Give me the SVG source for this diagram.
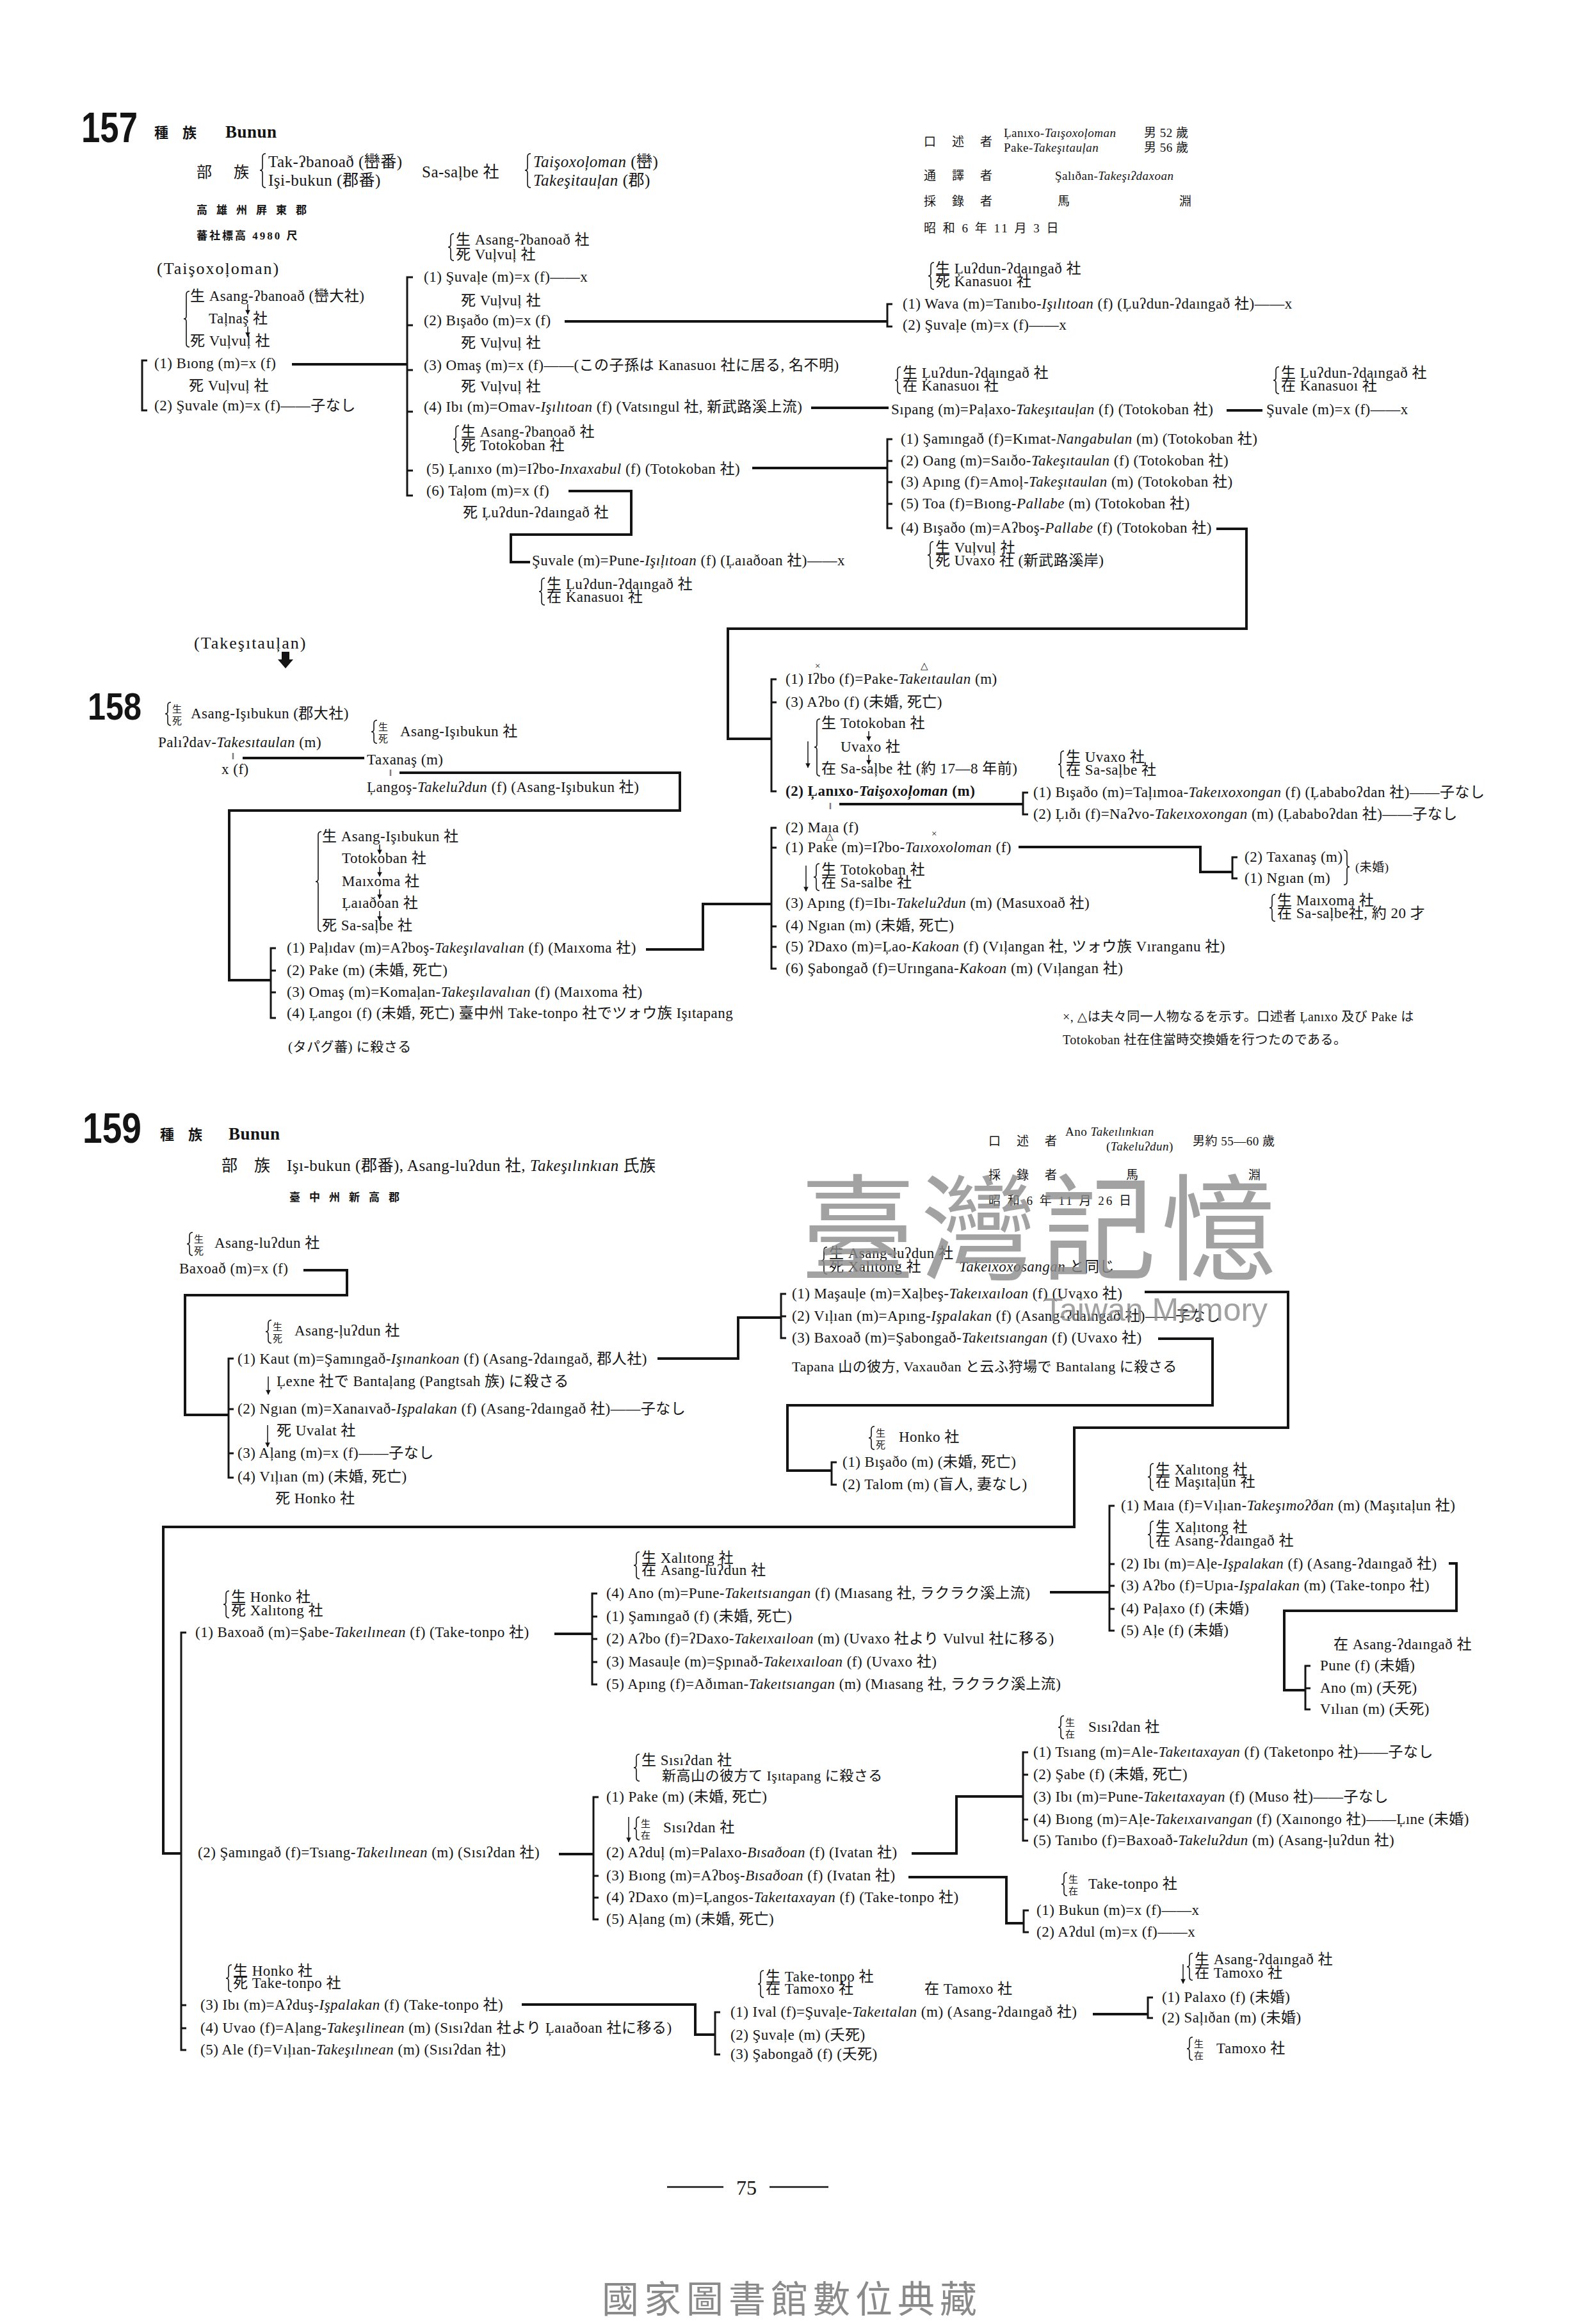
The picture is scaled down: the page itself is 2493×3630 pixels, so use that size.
<svg xmlns="http://www.w3.org/2000/svg" width="2493" height="3630" viewBox="0 0 2493 3630">
<defs>
<style>
text{font-family:"Liberation Serif","DejaVu Serif","Noto Sans CJK JP",serif;font-size:23px;fill:#141414;letter-spacing:0.5px}
.i{font-style:italic}
.bd{font-weight:bold}
.hd{font-size:19px}
.sm{font-size:15px}
.big{font-family:"Liberation Sans","DejaVu Sans",sans-serif;font-weight:bold;font-size:66px;letter-spacing:0}
.c{fill:none;stroke:#141414;stroke-width:4}
.k{fill:none;stroke:#141414;stroke-width:3}
.br{fill:none;stroke:#141414;stroke-width:1.6}
.ar{fill:none;stroke:#141414;stroke-width:1.5;marker-end:url(#ah)}
.wm{font-family:"Noto Sans CJK TC","Noto Sans CJK JP",sans-serif;fill:#8c8c8c;letter-spacing:0}
</style>
<marker id="ah" viewBox="0 0 10 10" refX="9" refY="5" markerWidth="5" markerHeight="5" orient="auto"><path d="M0,0L10,5L0,10z" fill="#141414"/></marker>
<path id="b1" class="br" d="M5,0 q-5,0 -5,5 V14 q0,4 -4,4 q4,0 4,4 V31 q0,5 5,5"/>
<path id="b2" class="br" d="M5,0 q-5,0 -5,5 V17 q0,4 -4,4 q4,0 4,4 V37 q0,5 5,5"/>
</defs>
<rect width="2493" height="3630" fill="#fff"/>

<!-- ===== 157 header ===== -->
<g id="h157">
<text class="big" x="127" y="222" textLength="88" lengthAdjust="spacingAndGlyphs">157</text>
<text x="241" y="215" class="bd" style="font-size:22px;letter-spacing:22px">種族</text>
<text x="352" y="215" class="bd" style="font-size:27px">Bunun</text>
<text x="307" y="277" style="font-size:24px;letter-spacing:34px">部族</text>
<path class="br" d="M415,240 q-5,0 -5,5 V262 q0,4 -4,4 q4,0 4,4 V288 q0,5 5,5"/>
<text x="419" y="261" style="font-size:25px">Tak-ʔbanoað (巒番)</text>
<text x="419" y="290" style="font-size:25px">Işi-bukun (郡番)</text>
<text x="659" y="277" style="font-size:25px">Sa-saļbe 社</text>
<path class="br" d="M829,240 q-5,0 -5,5 V262 q0,4 -4,4 q4,0 4,4 V288 q0,5 5,5"/>
<text x="833" y="261" style="font-size:25px"><tspan class="i">Taişoxoļoman</tspan> (巒)</text>
<text x="833" y="290" style="font-size:25px"><tspan class="i">Takeşitauļan</tspan> (郡)</text>
<text x="307" y="334" class="bd" style="font-size:17px;letter-spacing:14px">高雄州屛東郡</text>
<text x="307" y="374" class="bd" style="font-size:17px;letter-spacing:3px">蕃社標高 4980 尺</text>
<text x="245" y="428" style="font-size:26px;letter-spacing:2px">(Taişoxoļoman)</text>
</g>
<g id="info157">
<text x="1443" y="228" class="hd" style="letter-spacing:25px">口述者</text>
<text x="1568" y="214" class="hd">Ļanıxo-<tspan class="i">Taışoxoļoman</tspan></text>
<text x="1787" y="214" class="hd">男 52 歲</text>
<text x="1568" y="237" class="hd">Pake-<tspan class="i">Takeşıtauļan</tspan></text>
<text x="1787" y="237" class="hd">男 56 歲</text>
<text x="1443" y="281" class="hd" style="letter-spacing:25px">通譯者</text>
<text x="1648" y="281" class="hd">Şalıðan-<tspan class="i">Takeşıʔdaxoan</tspan></text>
<text x="1443" y="321" class="hd" style="letter-spacing:25px">採錄者</text>
<text x="1652" y="321" class="hd">馬</text>
<text x="1842" y="321" class="hd">淵</text>
<text x="1443" y="363" class="hd" style="letter-spacing:3px">昭 和 6 年 11 月 3 日</text>
</g>

<!-- ===== connectors ===== -->
<g id="connectors">
<!-- 157 -->
<path class="k" d="M230,563 H222 V641 H230"/>
<path class="c" d="M456,569 H636"/>
<path class="k" d="M645,433 H636 V774 H645 M636,508 h9 M636,578 h9 M636,643 h9 M636,735 h9"/>
<path class="c" d="M882,502 H1386"/>
<path class="k" d="M1394,475 H1386 V510 H1394"/>
<path class="c" d="M1267,637 H1388"/>
<path class="c" d="M1916,641 H1972"/>
<path class="c" d="M1175,731 H1386"/>
<path class="k" d="M1394,686 H1386 V825 H1394 M1386,720 h8 M1386,753 h8 M1386,787 h8"/>
<path class="c" d="M888,767 H986 V835 H798 V878 H828"/>
<path class="c" d="M1900,826 H1947 V982 H1137 V1154 H1205"/>
<!-- 158 -->
<path class="c" d="M379,1184 H569"/>
<path class="c" d="M624,1207 H1062 V1266 H358 V1531 H423"/>
<path class="k" d="M431,1481 H423 V1590 H431 M423,1516 h8 M423,1550 h8"/>
<path class="c" d="M1009,1483 H1098 V1412 H1205"/>
<path class="k" d="M1213,1061 H1205 V1236 H1213 M1205,1097 h8"/>
<path class="c" d="M1311,1256 H1598"/>
<path class="k" d="M1606,1238 H1598 V1272 H1606"/>
<path class="k" d="M1213,1293 H1205 V1513 H1213 M1205,1324 h8 M1205,1447 h8 M1205,1479 h8"/>
<path class="c" d="M1591,1323 H1875 V1362 H1925"/>
<path class="k" d="M1933,1339 H1925 V1372 H1933"/>
<path class="br" d="M2099,1328 q5,0 5,5 V1350 q0,4 4,4 q-4,0 -4,4 V1377 q0,5 -5,5"/>
<!-- 159 -->
<path class="c" d="M474,1984 H542 V2023 H289 V2210 H357"/>
<path class="k" d="M365,2122 H357 V2308 H365 M357,2201 h8 M357,2270 h8"/>
<path class="c" d="M1027,2122 H1153 V2058 H1220"/>
<path class="k" d="M1228,2021 H1220 V2090 H1228 M1220,2056 h8"/>
<path class="c" d="M1788,2018 H2012 V2230 H1678 V2385 H255 V2895 H283"/>
<path class="c" d="M1809,2091 H1894 V2195 H1230 V2297 H1299"/>
<path class="k" d="M1307,2284 H1299 V2319 H1307"/>
<path class="c" d="M1640,2487 H1733"/>
<path class="k" d="M1741,2352 H1733 V2547 H1741 M1733,2443 h8 M1733,2477 h8 M1733,2513 h8"/>
<path class="c" d="M2263,2442 H2275 V2516 H2006 V2640 H2039"/>
<path class="k" d="M2047,2602 H2039 V2670 H2047 M2039,2637 h8"/>
<path class="k" d="M291,2550 H283 V3202 H291 M283,3132 h8 M283,3168 h8"/>
<path class="c" d="M866,2552 H925"/>
<path class="k" d="M933,2489 H925 V2631 H933 M925,2525 h8 M925,2560 h8 M925,2596 h8"/>
<path class="c" d="M873,2896 H927"/>
<path class="k" d="M935,2807 H927 V2998 H935 M927,2930 h8 M927,2964 h8"/>
<path class="c" d="M1424,2895 H1494 V2806 H1598"/>
<path class="k" d="M1606,2737 H1598 V2875 H1606 M1598,2772 h8 M1598,2842 h8"/>
<path class="c" d="M1419,2932 H1572 V3004 H1599"/>
<path class="k" d="M1607,2984 H1599 V3018 H1607"/>
<path class="c" d="M815,3131 H1086 V3178 H1117"/>
<path class="k" d="M1125,3143 H1117 V3209 H1125"/>
<path class="c" d="M1707,3146 H1793"/>
<path class="k" d="M1801,3120 H1793 V3152 H1801"/>
</g>

<!-- ===== 157 nodes ===== -->
<g id="n157-origin">
<path class="br" d="M296,455 q-5,0 -5,5 V494 q0,4 -4,4 q4,0 4,4 V537 q0,5 5,5"/>
<text x="297" y="470">生 Asang-ʔbanoað (巒大社)</text>
<path class="ar" d="M387,475 V491"/>
<text x="326" y="505">Taļnaş 社</text>
<path class="ar" d="M387,510 V526"/>
<text x="297" y="540">死 Vuļvuļ 社</text>
</g>
<g id="n157-biong"><text x="241" y="575">(1) Bıong (m)=x (f)</text><text x="295" y="610">死 Vuļvuļ 社</text></g>
<g id="n157-suvale-a"><text x="241" y="641">(2) Şuvale (m)=x (f)——子なし</text></g>
<g id="n157-g2">
<use href="#b2" x="704" y="365"/>
<text x="712" y="382">生 Asang-ʔbanoað 社</text>
<text x="712" y="405">死 Vuļvuļ 社</text>
</g>
<g id="n157-s1"><text x="662" y="440">(1) Şuvaļe (m)=x (f)——x</text><text x="720" y="477">死 Vuļvuļ 社</text></g>
<g id="n157-s2"><text x="662" y="508">(2) Bışaðo (m)=x (f)</text><text x="720" y="543">死 Vuļvuļ 社</text></g>
<g id="n157-s3"><text x="662" y="578">(3) Omaş (m)=x (f)——(この子孫は Kanasuoı 社に居る, 名不明)</text><text x="720" y="611">死 Vuļvuļ 社</text></g>
<g id="n157-s4"><text x="662" y="643">(4) Ibı (m)=Omav-<tspan class="i">Işılıtoan</tspan> (f) (Vatsıngul 社, 新武路溪上流)</text></g>
<g id="n157-s5">
<use href="#b2" x="712" y="665"/>
<text x="720" y="682">生 Asang-ʔbanoað 社</text>
<text x="720" y="703">死 Totokoban 社</text>
<text x="666" y="740">(5) Ļanıxo (m)=Iʔbo-<tspan class="i">Inxaxabul</tspan> (f) (Totokoban 社)</text>
</g>
<g id="n157-s6"><text x="666" y="774">(6) Taļom (m)=x (f)</text><text x="723" y="808">死 Ļuʔdun-ʔdaıngað 社</text></g>
<g id="n157-suvale-b">
<text x="831" y="883">Şuvale (m)=Pune-<tspan class="i">Işıļıtoan</tspan> (f) (Ļaıaðoan 社)——x</text>
<use href="#b2" x="846" y="903"/>
<text x="854" y="920">生 Ļuʔdun-ʔdaıngað 社</text>
<text x="854" y="940">在 Kanasuoı 社</text>
</g>
<g id="n157-wava">
<use href="#b2" x="1454" y="410"/>
<text x="1461" y="427">生 Ļuʔdun-ʔdaıngað 社</text>
<text x="1461" y="447">死 Kanasuoı 社</text>
<text x="1410" y="482">(1) Wava (m)=Tanıbo-<tspan class="i">Işılıtoan</tspan> (f) (Ļuʔdun-ʔdaıngað 社)——x</text>
<text x="1410" y="515">(2) Şuvaļe (m)=x (f)——x</text>
</g>
<g id="n157-sipang">
<use href="#b2" x="1402" y="573"/>
<text x="1410" y="590">生 Ļuʔdun-ʔdaıngað 社</text>
<text x="1410" y="610">在 Kanasuoı 社</text>
<text x="1392" y="647">Sıpang (m)=Paļaxo-<tspan class="i">Takeşıtauļan</tspan> (f) (Totokoban 社)</text>
</g>
<g id="n157-suvale-c">
<use href="#b2" x="1993" y="573"/>
<text x="2001" y="590">生 Ļuʔdun-ʔdaıngað 社</text>
<text x="2001" y="610">在 Kanasuoı 社</text>
<text x="1978" y="647">Şuvale (m)=x (f)——x</text>
</g>
<g id="n157-lanixo-ch">
<text x="1407" y="693">(1) Şamıngað (f)=Kımat-<tspan class="i">Nangabulan</tspan> (m) (Totokoban 社)</text>
<text x="1407" y="727">(2) Oang (m)=Saıðo-<tspan class="i">Takeşıtaulan</tspan> (f) (Totokoban 社)</text>
<text x="1407" y="760">(3) Apıng (f)=Amoļ-<tspan class="i">Takeşıtaulan</tspan> (m) (Totokoban 社)</text>
<text x="1407" y="794">(5) Toa (f)=Bıong-<tspan class="i">Pallabe</tspan> (m) (Totokoban 社)</text>
<text x="1407" y="832">(4) Bışaðo (m)=Aʔboş-<tspan class="i">Pallabe</tspan> (f) (Totokoban 社)</text>
<use href="#b2" x="1453" y="846"/>
<text x="1461" y="863">生 Vuļvuļ 社</text>
<text x="1461" y="883">死 Uvaxo 社 (新武路溪岸)</text>
</g>

<!-- ===== 158 ===== -->
<g id="h158">
<text x="303" y="1013" style="font-size:26px;letter-spacing:2px">(Takeşıtauļan)</text>
<path d="M440,1018 H452 V1030 H458 L446,1044 L434,1030 H440 Z" fill="#141414"/>
<text class="big" x="137" y="1124" textLength="84" lengthAdjust="spacingAndGlyphs" style="font-size:60px">158</text>
</g>
<g id="n158-palidav">
<use href="#b1" x="262" y="1097"/>
<text x="269" y="1113" class="sm">生</text><text x="269" y="1131" class="sm">死</text>
<text x="298" y="1122">Asang-Işıbukun (郡大社)</text>
<text x="247" y="1167">Palıʔdav-<tspan class="i">Takesıtaulan</tspan> (m)</text>
<text x="362" y="1186" style="font-size:14px">‖</text>
<text x="346" y="1209">x (f)</text>
</g>
<g id="n158-taxanas">
<use href="#b1" x="584" y="1125"/>
<text x="591" y="1141" class="sm">生</text><text x="591" y="1159" class="sm">死</text>
<text x="625" y="1150">Asang-Işıbukun 社</text>
<text x="573" y="1194">Taxanaş (m)</text>
<text x="608" y="1212" style="font-size:14px">‖</text>
<text x="573" y="1237">Ļangoş-<tspan class="i">Takeluʔdun</tspan> (f) (Asang-Işıbukun 社)</text>
</g>
<g id="n158-route">
<path class="br" d="M502,1299 q-5,0 -5,5 V1373 q0,4 -4,4 q4,0 4,4 V1450 q0,5 5,5"/>
<text x="503" y="1314">生 Asang-Işıbukun 社</text>
<path class="ar" d="M593,1319 V1334"/>
<text x="534" y="1348">Totokoban 社</text>
<path class="ar" d="M593,1354 V1369"/>
<text x="534" y="1384">Maıxoma 社</text>
<path class="ar" d="M593,1389 V1404"/>
<text x="534" y="1418">Ļaıaðoan 社</text>
<path class="ar" d="M593,1423 V1438"/>
<text x="503" y="1453">死 Sa-saļbe 社</text>
</g>
<g id="n158-ch">
<text x="448" y="1488">(1) Paļıdav (m)=Aʔboş-<tspan class="i">Takeşılavalıan</tspan> (f) (Maıxoma 社)</text>
<text x="448" y="1523">(2) Pake (m) (未婚, 死亡)</text>
<text x="448" y="1557">(3) Omaş (m)=Komaļan-<tspan class="i">Takeşılavalıan</tspan> (f) (Maıxoma 社)</text>
<text x="448" y="1590">(4) Ļangoı (f) (未婚, 死亡) 臺中州 Take-tonpo 社でツォウ族 Işıtapang</text>
<text x="450" y="1642" style="font-size:21px">(タパグ蕃) に殺さる</text>
</g>
<g id="n158-r1">
<text x="1273" y="1045" class="sm">×</text>
<text x="1438" y="1045" class="sm">△</text>
<text x="1227" y="1068">(1) Iʔbo (f)=Pake-<tspan class="i">Takeıtaulan</tspan> (m)</text>
<text x="1227" y="1104">(3) Aʔbo (f) (未婚, 死亡)</text>
<path class="br" d="M1281,1123 q-5,0 -5,5 V1163 q0,4 -4,4 q4,0 4,4 V1207 q0,5 5,5"/>
<text x="1283" y="1137">生 Totokoban 社</text>
<path class="ar" d="M1357,1142 V1157"/>
<text x="1313" y="1174">Uvaxo 社</text>
<path class="ar" d="M1357,1179 V1194"/>
<text x="1283" y="1208">在 Sa-saļbe 社 (約 17—8 年前)</text>
<path class="ar" d="M1262,1158 V1199"/>
<text x="1227" y="1243" class="bd">(2) Ļanıxo-<tspan class="i">Taişoxoļoman</tspan> (m)</text>
<text x="1295" y="1264" style="font-size:14px">‖</text>
</g>
<g id="n158-lanixo-ch">
<use href="#b2" x="1657" y="1173"/>
<text x="1665" y="1190">生 Uvaxo 社</text>
<text x="1665" y="1210">在 Sa-saļbe 社</text>
<text x="1614" y="1245">(1) Bışaðo (m)=Taļımoa-<tspan class="i">Takeıxoxongan</tspan> (f) (Ļababoʔdan 社)——子なし</text>
<text x="1614" y="1279">(2) Ļıðı (f)=Naʔvo-<tspan class="i">Takeıxoxongan</tspan> (m) (Ļababoʔdan 社)——子なし</text>
</g>
<g id="n158-r2">
<text x="1227" y="1300">(2) Maıa (f)</text>
<text x="1290" y="1311" class="sm">△</text>
<text x="1455" y="1307" class="sm">×</text>
<text x="1227" y="1331">(1) Pake (m)=Iʔbo-<tspan class="i">Taıxoxoloman</tspan> (f)</text>
<path class="ar" d="M1259,1352 V1392"/>
<use href="#b2" x="1275" y="1349"/>
<text x="1283" y="1366">生 Totokoban 社</text>
<text x="1283" y="1386">在 Sa-salbe 社</text>
<text x="1227" y="1418">(3) Apıng (f)=Ibı-<tspan class="i">Takeluʔdun</tspan> (m) (Masuxoað 社)</text>
<text x="1227" y="1453">(4) Ngıan (m) (未婚, 死亡)</text>
<text x="1227" y="1486">(5) ʔDaxo (m)=Ļao-<tspan class="i">Kakoan</tspan> (f) (Vıļangan 社, ツォウ族 Vıranganu 社)</text>
<text x="1227" y="1520">(6) Şabongað (f)=Urıngana-<tspan class="i">Kakoan</tspan> (m) (Vıļangan 社)</text>
</g>
<g id="n158-pake-ch">
<text x="1944" y="1346">(2) Taxanaş (m)</text>
<text x="1944" y="1379">(1) Ngıan (m)</text>
<text x="2117" y="1361" style="font-size:19px">(未婚)</text>
<use href="#b2" x="1987" y="1397"/>
<text x="1995" y="1414">生 Maıxoma 社</text>
<text x="1995" y="1434">在 Sa-saļbe社, 約 20 才</text>
</g>
<g id="note158">
<text x="1660" y="1595" style="font-size:20px">×, △は夫々同一人物なるを示す。口述者 Ļanıxo 及び Pake は</text>
<text x="1660" y="1631" style="font-size:20px">Totokoban 社在住當時交換婚を行つたのである。</text>
</g>

<!-- ===== 159 ===== -->
<g id="h159">
<text class="big" x="129" y="1785" textLength="92" lengthAdjust="spacingAndGlyphs">159</text>
<text x="250" y="1780" class="bd" style="font-size:22px;letter-spacing:22px">種族</text>
<text x="357" y="1780" class="bd" style="font-size:27px">Bunun</text>
<text x="346" y="1829" style="font-size:25px">部　族　Işı-bukun (郡番), Asang-luʔdun 社, <tspan class="i">Takeşılınkıan</tspan> 氏族</text>
<text x="452" y="1876" class="bd" style="font-size:17px;letter-spacing:14px">臺中州新高郡</text>
</g>
<g id="info159">
<text x="1544" y="1789" class="hd" style="letter-spacing:25px">口述者</text>
<text x="1664" y="1774" class="hd">Ano <tspan class="i">Takeılınkıan</tspan></text>
<text x="1728" y="1797" class="hd">(<tspan class="i">Takeluʔdun</tspan>)</text>
<text x="1863" y="1789" class="hd">男約 55—60 歲</text>
<text x="1544" y="1842" class="hd" style="letter-spacing:25px">採錄者</text>
<text x="1759" y="1842" class="hd">馬</text>
<text x="1950" y="1842" class="hd">淵</text>
<text x="1544" y="1882" class="hd" style="letter-spacing:3px">昭 和 6 年 11 月 26 日</text>
</g>
<g id="n159-baxoad">
<use href="#b1" x="296" y="1925"/>
<text x="303" y="1941" class="sm">生</text><text x="303" y="1959" class="sm">死</text>
<text x="335" y="1949">Asang-luʔdun 社</text>
<text x="280" y="1989">Baxoað (m)=x (f)</text>
</g>
<g id="n159-g2">
<use href="#b1" x="419" y="2062"/>
<text x="426" y="2078" class="sm">生</text><text x="426" y="2096" class="sm">死</text>
<text x="460" y="2086">Asang-ļuʔdun 社</text>
<text x="371" y="2130">(1) Kaut (m)=Şamıngað-<tspan class="i">Işınankoan</tspan> (f) (Asang-ʔdaıngað, 郡人社)</text>
<path class="ar" d="M419,2150 V2178"/>
<text x="432" y="2165">Ļexne 社で Bantaļang (Pangtsah 族) に殺さる</text>
<text x="371" y="2208">(2) Ngıan (m)=Xanaıvað-<tspan class="i">Işpalakan</tspan> (f) (Asang-ʔdaıngað 社)——子なし</text>
<path class="ar" d="M418,2226 V2260"/>
<text x="432" y="2242">死 Uvalat 社</text>
<text x="371" y="2277">(3) Aļang (m)=x (f)——子なし</text>
<text x="371" y="2314">(4) Vıļıan (m) (未婚, 死亡)</text>
<text x="430" y="2348">死 Honko 社</text>
</g>
<g id="n159-kaut-ch">
<use href="#b2" x="1287" y="1948"/>
<text x="1295" y="1965">生 Asang-luʔdun 社</text>
<text x="1295" y="1986">死 Xalıtong 社</text>
<text x="1498" y="1986"><tspan class="i">Takeıxoxosangan</tspan> と同じ</text>
<text x="1237" y="2028">(1) Maşauļe (m)=Xaļbeş-<tspan class="i">Takeıxaıloan</tspan> (f) (Uvaxo 社)</text>
<text x="1237" y="2063">(2) Vıļıan (m)=Apıng-<tspan class="i">Işpalakan</tspan> (f) (Asang-ʔdaıngað 社)——子なし</text>
<text x="1237" y="2097">(3) Baxoað (m)=Şabongað-<tspan class="i">Takeıtsıangan</tspan> (f) (Uvaxo 社)</text>
<text x="1237" y="2142" style="font-size:22px">Tapana 山の彼方, Vaxauðan と云ふ狩場で Bantalang に殺さる</text>
</g>
<g id="n159-baxoad-ch">
<use href="#b1" x="1361" y="2228"/>
<text x="1368" y="2244" class="sm">生</text><text x="1368" y="2262" class="sm">死</text>
<text x="1404" y="2252">Honko 社</text>
<text x="1316" y="2291">(1) Bışaðo (m) (未婚, 死亡)</text>
<text x="1316" y="2326">(2) Talom (m) (盲人, 妻なし)</text>
</g>
<g id="n159-masaule-ch">
<use href="#b2" x="1797" y="2286"/>
<text x="1805" y="2303">生 Xalıtong 社</text>
<text x="1805" y="2322">在 Maşıtaļun 社</text>
<text x="1751" y="2359">(1) Maıa (f)=Vıļıan-<tspan class="i">Takeşımoʔðan</tspan> (m) (Maşıtaļun 社)</text>
<use href="#b2" x="1797" y="2376"/>
<text x="1805" y="2393">生 Xaļıtong 社</text>
<text x="1805" y="2414">在 Asang-ʔdaıngað 社</text>
<text x="1751" y="2450">(2) Ibı (m)=Aļe-<tspan class="i">Işpalakan</tspan> (f) (Asang-ʔdaıngað 社)</text>
<text x="1751" y="2484">(3) Aʔbo (f)=Upıa-<tspan class="i">Işpalakan</tspan> (m) (Take-tonpo 社)</text>
<text x="1751" y="2520">(4) Paļaxo (f) (未婚)</text>
<text x="1751" y="2554">(5) Aļe (f) (未婚)</text>
</g>
<g id="n159-ibi-ch">
<text x="2083" y="2576">在 Asang-ʔdaıngað 社</text>
<text x="2062" y="2609">Pune (f) (未婚)</text>
<text x="2062" y="2644">Ano (m) (夭死)</text>
<text x="2062" y="2677">Vılıan (m) (夭死)</text>
</g>
<g id="n159-b1">
<use href="#b2" x="353" y="2485"/>
<text x="361" y="2502">生 Honko 社</text>
<text x="361" y="2523">死 Xalıtong 社</text>
<text x="305" y="2557">(1) Baxoað (m)=Şabe-<tspan class="i">Takeılınean</tspan> (f) (Take-tonpo 社)</text>
</g>
<g id="n159-b1-ch">
<use href="#b2" x="994" y="2424"/>
<text x="1002" y="2441">生 Xalıtong 社</text>
<text x="1002" y="2460">在 Asang-luʔdun 社</text>
<text x="947" y="2496">(4) Ano (m)=Pune-<tspan class="i">Takeıtsıangan</tspan> (f) (Mıasang 社, ラクラク溪上流)</text>
<text x="947" y="2532">(1) Şamıngað (f) (未婚, 死亡)</text>
<text x="947" y="2567">(2) Aʔbo (f)=ʔDaxo-<tspan class="i">Takeıxaıloan</tspan> (m) (Uvaxo 社より Vulvul 社に移る)</text>
<text x="947" y="2603">(3) Masauļe (m)=Şpınað-<tspan class="i">Takeıxaıloan</tspan> (f) (Uvaxo 社)</text>
<text x="947" y="2638">(5) Apıng (f)=Aðıman-<tspan class="i">Takeıtsıangan</tspan> (m) (Mıasang 社, ラクラク溪上流)</text>
</g>
<g id="n159-b2">
<text x="309" y="2901">(2) Şamıngað (f)=Tsıang-<tspan class="i">Takeılınean</tspan> (m) (Sısıʔdan 社)</text>
</g>
<g id="n159-b2-ch">
<use href="#b2" x="994" y="2740"/>
<text x="1002" y="2757">生 Sısıʔdan 社</text>
<text x="1034" y="2781" style="font-size:22px">新高山の彼方て Işıtapang に殺さる</text>
<text x="947" y="2814">(1) Pake (m) (未婚, 死亡)</text>
<path class="ar" d="M982,2838 V2877"/>
<use href="#b1" x="994" y="2838"/>
<text x="1001" y="2854" class="sm">生</text><text x="1001" y="2872" class="sm">在</text>
<text x="1036" y="2862">Sısıʔdan 社</text>
<text x="947" y="2901">(2) Aʔduļ (m)=Palaxo-<tspan class="i">Bısaðoan</tspan> (f) (Ivatan 社)</text>
<text x="947" y="2937">(3) Bıong (m)=Aʔboş-<tspan class="i">Bısaðoan</tspan> (f) (Ivatan 社)</text>
<text x="947" y="2971">(4) ʔDaxo (m)=Ļangos-<tspan class="i">Takeıtaxayan</tspan> (f) (Take-tonpo 社)</text>
<text x="947" y="3005">(5) Aļang (m) (未婚, 死亡)</text>
</g>
<g id="n159-adul-ch">
<use href="#b1" x="1657" y="2680"/>
<text x="1664" y="2696" class="sm">生</text><text x="1664" y="2714" class="sm">在</text>
<text x="1700" y="2705">Sısıʔdan 社</text>
<text x="1614" y="2744">(1) Tsıang (m)=Ale-<tspan class="i">Takeıtaxayan</tspan> (f) (Taketonpo 社)——子なし</text>
<text x="1614" y="2779">(2) Şabe (f) (未婚, 死亡)</text>
<text x="1614" y="2814">(3) Ibı (m)=Pune-<tspan class="i">Takeıtaxayan</tspan> (f) (Muso 社)——子なし</text>
<text x="1614" y="2849">(4) Bıong (m)=Aļe-<tspan class="i">Takeıxaıvangan</tspan> (f) (Xaınongo 社)——Ļıne (未婚)</text>
<text x="1614" y="2882">(5) Tanıbo (f)=Baxoað-<tspan class="i">Takeluʔdun</tspan> (m) (Asang-ļuʔdun 社)</text>
</g>
<g id="n159-biong-ch">
<use href="#b1" x="1662" y="2925"/>
<text x="1669" y="2941" class="sm">生</text><text x="1669" y="2959" class="sm">在</text>
<text x="1700" y="2950">Take-tonpo 社</text>
<text x="1619" y="2991">(1) Bukun (m)=x (f)——x</text>
<text x="1619" y="3025">(2) Aʔdul (m)=x (f)——x</text>
</g>
<g id="n159-b3">
<use href="#b2" x="357" y="3069"/>
<text x="364" y="3086">生 Honko 社</text>
<text x="364" y="3105">死 Take-tonpo 社</text>
<text x="313" y="3139">(3) Ibı (m)=Aʔduş-<tspan class="i">Işpalakan</tspan> (f) (Take-tonpo 社)</text>
<text x="313" y="3175">(4) Uvao (f)=Aļang-<tspan class="i">Takeşılinean</tspan> (m) (Sısıʔdan 社より Ļaıaðoan 社に移る)</text>
<text x="313" y="3209">(5) Ale (f)=Vıļıan-<tspan class="i">Takeşılınean</tspan> (m) (Sısıʔdan 社)</text>
</g>
<g id="n159-b3-ch">
<use href="#b2" x="1188" y="3078"/>
<text x="1196" y="3095">生 Take-tonpo 社</text>
<text x="1196" y="3114">在 Tamoxo 社</text>
<text x="1444" y="3114">在 Tamoxo 社</text>
<text x="1141" y="3150">(1) Ival (f)=Şuvaļe-<tspan class="i">Takeıtalan</tspan> (m) (Asang-ʔdaıngað 社)</text>
<text x="1141" y="3186">(2) Şuvaļe (m) (夭死)</text>
<text x="1141" y="3216">(3) Şabongað (f) (夭死)</text>
</g>
<g id="n159-ival-ch">
<path class="ar" d="M1848,3068 V3098"/>
<use href="#b2" x="1858" y="3051"/>
<text x="1866" y="3068">生 Asang-ʔdaıngað 社</text>
<text x="1866" y="3089">在 Tamoxo 社</text>
<text x="1815" y="3127">(1) Palaxo (f) (未婚)</text>
<text x="1815" y="3159">(2) Saļıðan (m) (未婚)</text>
<use href="#b1" x="1858" y="3182"/>
<text x="1865" y="3198" class="sm">生</text><text x="1865" y="3216" class="sm">在</text>
<text x="1900" y="3207">Tamoxo 社</text>
</g>

<!-- page number -->
<g id="page">
<path d="M1042,3416 H1130 M1202,3416 H1294" stroke="#141414" stroke-width="2.5"/>
<text x="1150" y="3428" style="font-size:32px;letter-spacing:0">75</text>
</g>

<!-- watermarks -->
<g id="watermark" opacity="0.8">
<text class="wm" x="1250" y="1985" style="font-size:180px;letter-spacing:8px">臺灣記憶</text>
<text x="1630" y="2063" style="font-family:'Liberation Sans',sans-serif;font-size:50px;fill:#8c8c8c;letter-spacing:0">Taiwan Memory</text>
</g>
<g id="footer">
<text class="wm" x="940" y="3612" style="font-size:58px;letter-spacing:8px;fill:#8a8a8a">國家圖書館數位典藏</text>
</g>
</svg>
